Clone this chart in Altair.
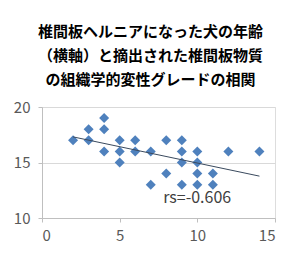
import altair as alt
import pandas as pd

age = [2, 3, 3, 4, 4, 4, 5, 5, 5, 6, 6, 7, 7, 8, 8, 9, 9, 9, 9, 10, 10, 10, 10, 11, 11, 12, 14]
grade = [17, 18, 17, 19, 18, 16, 17, 16, 15, 17, 16, 16, 13, 17, 14, 17, 16, 15, 13, 16, 15, 14, 13, 14, 13, 16, 16]
title_lines = ["椎間板ヘルニアになった犬の年齢", "（横軸）と摘出された椎間板物質", "の組織学的変性グレードの相関"]
note_text = ["rs=-0.606"]
note_x = [7.8]
note_y = [11.8]

df = pd.DataFrame({"age": age, "grade": grade})
notes = pd.DataFrame({"x": note_x, "y": note_y, "t": note_text})

FONT = "Noto Sans CJK JP"

xs = alt.Scale(domain=[0, 15], nice=False)
ys = alt.Scale(domain=[10, 20], nice=False, zero=False)

xax = alt.Axis(values=[0, 5, 10, 15], grid=False, domain=True, domainColor="#bfbfbf",
               ticks=True, tickColor="#bfbfbf", tickSize=4, labelFontSize=15,
               labelColor="#595959", labelFont=FONT, labelPadding=6, title=None)
yax = alt.Axis(values=[10, 15, 20], grid=True, gridColor="#d9d9d9", domain=True,
               domainColor="#bfbfbf", ticks=True, tickColor="#bfbfbf", tickSize=4,
               labelFontSize=15, labelColor="#595959", labelFont=FONT, labelPadding=8,
               title=None)

points = alt.Chart(df).mark_point(shape="diamond", filled=True, size=100,
                                  color="#4f81bd", opacity=1).encode(
    x=alt.X("age:Q", scale=xs, axis=xax),
    y=alt.Y("grade:Q", scale=ys, axis=yax),
)

trend = alt.Chart(df).transform_regression("age", "grade").mark_line(
    color="#3a4a5e", strokeWidth=1).encode(
    x=alt.X("age:Q", scale=xs),
    y=alt.Y("grade:Q", scale=ys),
)

label = alt.Chart(notes).mark_text(align="left", baseline="middle", fontSize=16,
                                   color="#404040", font=FONT).encode(
    x=alt.X("x:Q", scale=xs),
    y=alt.Y("y:Q", scale=ys),
    text="t:N",
)

chart = alt.layer(points, trend, label).properties(
    width=233, height=111,
    title=alt.TitleParams(text=title_lines, font=FONT, fontSize=15, fontWeight="bold",
                          color="#000000", anchor="middle", lineHeight=24, offset=12,
                          dx=-8),
    autosize=alt.AutoSizeParams(type="none"),
    padding={"left": 42, "top": 107, "right": 25, "bottom": 39},
).configure_view(stroke=None).configure(background="white")

chart.save("out.html", embed_options={"renderer": "svg", "actions": False})
